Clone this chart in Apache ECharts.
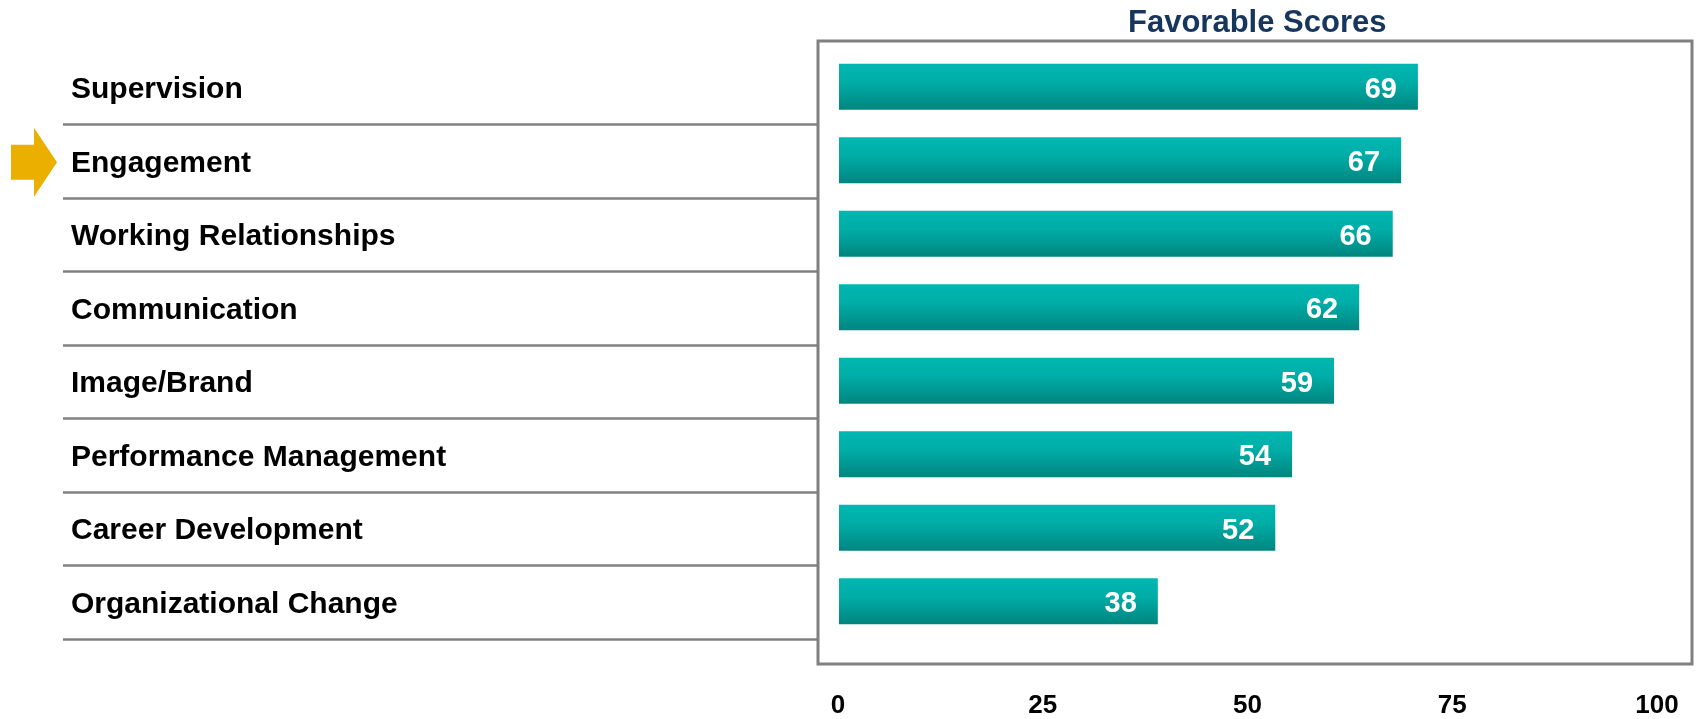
<!DOCTYPE html>
<html>
<head>
<meta charset="utf-8">
<script src="https://cdn.jsdelivr.net/npm/echarts@6/dist/echarts.min.js"></script>
<style>
  html, body { margin: 0; padding: 0; background: #fff; }
  #chart { width: 1696px; height: 719px; }
</style>
</head>
<body>
<div id="chart"></div>
<script>
// data
const categories = [
  'Supervision',
  'Engagement',
  'Working Relationships',
  'Communication',
  'Image/Brand',
  'Performance Management',
  'Career Development',
  'Organizational Change'
]
const scores = [69, 67, 66, 62, 59, 54, 52, 38]
const highlighted = 'Engagement'
const axisMin = 0
const axisMax = 100
const axisStep = 25

const font = "'Liberation Sans', Arial, sans-serif"
const lineGray = '#808080'

const options = {
  animation: false,
  title: {
    text: 'Favorable Scores',
    left: 1128,
    top: 8,
    padding: 0,
    textStyle: {
      color: '#17365D',
      fontFamily: font,
      fontWeight: 'bold',
      fontSize: 31
    }
  },
  grid: [
    // 0: framed box round the bars
    { left: 818, top: 41, right: 4, bottom: 55, show: true, borderColor: lineGray, borderWidth: 3, backgroundColor: 'transparent' },
    // 1: bars
    { left: 839, right: 18, top: 50, height: 588 },
    // 2: category labels with separator lines
    { left: 63, width: 755, top: 51, height: 588 },
    // 3: bottom tick labels (drawn inside the strip under the box)
    { left: 838, right: 39, top: 670, bottom: 0, outerBoundsMode: 'none' }
  ],
  xAxis: [
    { gridIndex: 1, type: 'value', min: axisMin, max: axisMax, show: false },
    { gridIndex: 2, type: 'value', min: 0, max: 1, show: false },
    {
      gridIndex: 3,
      type: 'value',
      position: 'bottom',
      min: axisMin,
      max: axisMax,
      interval: axisStep,
      axisLine: { show: false, onZero: false },
      axisTick: { show: false },
      splitLine: { show: false },
      axisLabel: {
        inside: true,
        margin: 0,
        color: '#000',
        fontFamily: font,
        fontWeight: 'bold',
        fontSize: 26
      }
    }
  ],
  yAxis: [
    { gridIndex: 1, type: 'category', data: categories, inverse: true, show: false },
    {
      gridIndex: 2,
      type: 'category',
      data: categories,
      inverse: true,
      axisLine: { show: false },
      axisTick: { show: false },
      axisLabel: {
        inside: true,
        interval: 0,
        margin: 8,
        formatter: function (value) {
          return '{name|' + value + '}'
        },
        rich: {
          name: {
            padding: [4, 0, 0, 0],
            color: '#000',
            fontFamily: font,
            fontWeight: 'bold',
            fontSize: 30
          }
        }
      },
      splitLine: {
        show: true,
        interval: 0,
        showMinLine: false,
        lineStyle: { color: lineGray, width: 2.5 }
      }
    },
    { gridIndex: 3, type: 'category', data: [''], show: false }
  ],
  series: [
    {
      name: 'Favorable Scores',
      type: 'bar',
      xAxisIndex: 0,
      yAxisIndex: 0,
      data: scores,
      barWidth: 46,
      itemStyle: {
        color: new echarts.graphic.LinearGradient(0, 0, 0, 1, [
          { offset: 0, color: '#00B7B1' },
          { offset: 0.4, color: '#00ADA7' },
          { offset: 1, color: '#00857F' }
        ])
      },
      label: {
        show: true,
        position: 'insideRight',
        distance: 21,
        offset: [0, 3],
        color: '#fff',
        fontFamily: font,
        fontWeight: 'bold',
        fontSize: 29
      }
    }
  ]
}

const chart = echarts.init(document.getElementById('chart'))
chart.setOption(options)

// arrow pointing at the highlighted row
const rowY = chart.convertToPixel({ yAxisIndex: 1 }, highlighted) + 1
chart.setOption({
  graphic: [{
    type: 'polygon',
    shape: {
      points: [
        [11, rowY - 17.5], [34, rowY - 17.5], [34, rowY - 34.5],
        [57, rowY], [34, rowY + 34.5], [34, rowY + 17.5], [11, rowY + 17.5]
      ]
    },
    style: { fill: '#EBAF00' }
  }]
})

window.addEventListener('resize', function () {
  chart && chart.resize()
})
</script>
</body>
</html>
